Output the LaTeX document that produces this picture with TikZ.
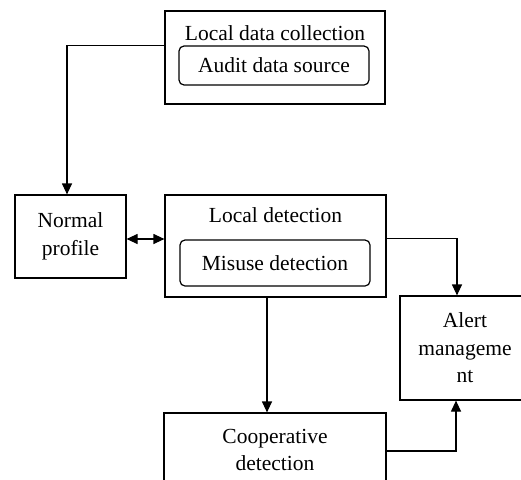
\documentclass[tikz,border=0pt]{standalone}
\usepackage{fontspec}
\setmainfont{Liberation Serif}
\usetikzlibrary{arrows.meta,calc}
\begin{document}
\begin{tikzpicture}[x=1pt, y=-1pt, line width=1.2pt,
  every node/.style={font=\fontsize{21.5}{27.5}\selectfont, align=center},
  box/.style={draw, inner sep=0pt},
  inbox/.style={draw, rounded corners=5pt, inner sep=0pt},
  arr/.style={-{Triangle[length=11pt,width=10pt]}}]
\useasboundingbox (0,0) rectangle (521,479);
\begin{scope}
\clip (0,0) rectangle (521,479);
% boxes
\node[box, minimum width=220pt, minimum height=93pt] (collect) at (275,57.5) {};
\node (collecttxt) at (275,33) {Local data collection};
\node[inbox, minimum width=190pt, minimum height=39pt] (audit) at (274,65.5) {Audit data source};
\node[box, minimum width=111pt, minimum height=83pt] (normal) at (70.5,236.5) {Normal\\profile};
\node[box, minimum width=221pt, minimum height=102pt] (local) at (275.5,246) {};
\node (localtxt) at (275.5,215) {Local detection};
\node[inbox, minimum width=190pt, minimum height=46pt] (misuse) at (275,263) {Misuse detection};
\node[box, minimum width=140pt, minimum height=104pt] (alert) at (470,348) {};
\node (alerttxt) at (465,348) {Alert\\manageme\\nt};
\node[box, minimum width=222pt, minimum height=74pt] (coop) at (275,450) {Cooperative\\detection};
% connectors
\draw[arr] ($(collect.north west)+(0,35)$) -| ($(normal.north)+(-3.5,0)$);
\draw[{Triangle[length=11pt,width=10pt]}-{Triangle[length=11pt,width=10pt]}] (normal.east |- 0,239) -- (local.west |- 0,239);
\draw[arr] ($(local.north east)+(0,44)$) -| ($(alert.north)+(-13,0)$);
\draw[arr] ($(local.south)+(-8.5,0)$) -- ($(coop.north)+(-8,0)$);
\draw[arr] (coop.east |- 0,451) -| ($(alert.south)+(-14,0)$);
\end{scope}
\end{tikzpicture}
\end{document}
